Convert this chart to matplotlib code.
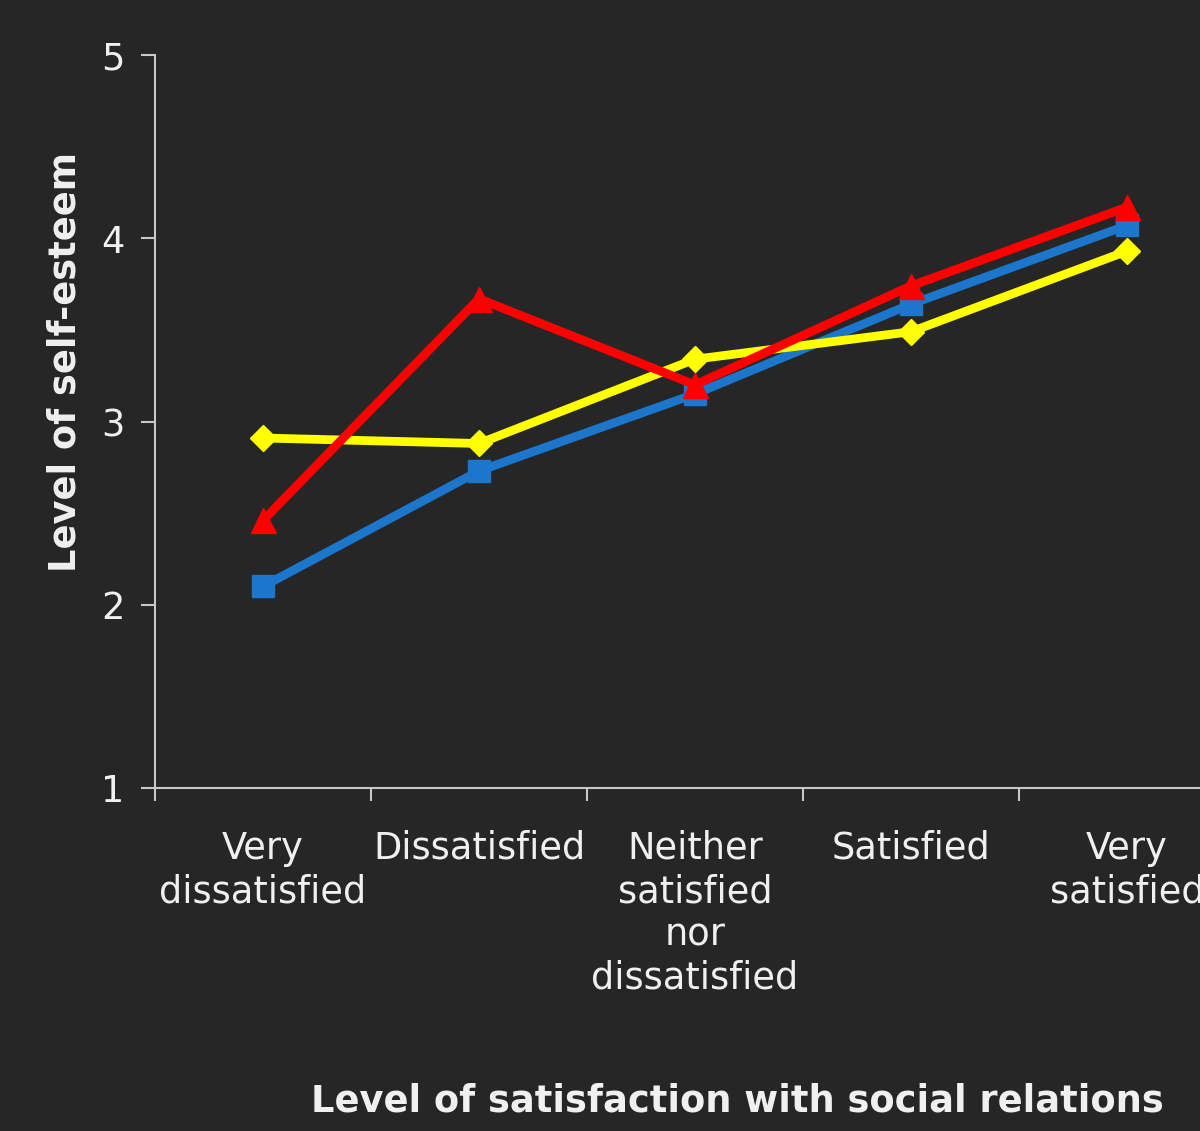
import matplotlib.pyplot as plt
from matplotlib.ticker import FixedLocator, NullFormatter

# data
categories = ["Very\ndissatisfied", "Dissatisfied", "Neither\nsatisfied\nnor\ndissatisfied",
              "Satisfied", "Very\nsatisfied"]
yellow_vals = [2.91, 2.88, 3.34, 3.49, 3.93]
blue_vals = [2.10, 2.73, 3.15, 3.64, 4.07]
red_vals = [2.46, 3.67, 3.20, 3.74, 4.17]
y_ticks = [1, 2, 3, 4, 5]

bg = "#262626"
fg = "#f0f0f0"
spine = "#c8c8c8"
fs = 26.5

fig = plt.figure(figsize=(12, 11.31), dpi=100, facecolor=bg)
ax = fig.add_axes([155 / 1200, 343 / 1131, 1080 / 1200, 733 / 1131], facecolor=bg)

x = range(1, len(categories) + 1)
ax.plot(x, blue_vals, color="#1b76cc", lw=6.3, marker="s", ms=16, zorder=3, clip_on=False)
ax.plot(x, yellow_vals, color="#ffff00", lw=6.3, marker="D", ms=13, zorder=4, clip_on=False)
ax.plot(x, red_vals, color="#ff0000", lw=6.3, marker="^", ms=18, zorder=5, clip_on=False)

ax.set_xlim(0.5, 5.5)
ax.set_ylim(1, 5)

# category boundaries as major ticks, names on minor ticks at the centres
ax.xaxis.set_major_locator(FixedLocator([0.5, 1.5, 2.5, 3.5, 4.5, 5.5]))
ax.xaxis.set_major_formatter(NullFormatter())
ax.set_xticks(list(x), minor=True)
ax.set_xticklabels(categories, minor=True, fontsize=fs, color=fg, linespacing=1.22)
ax.tick_params(axis="x", which="minor", length=0, pad=30)
ax.tick_params(axis="x", which="major", length=9, width=1.5, color=spine, direction="out")

ax.set_yticks(y_ticks)
ax.set_yticklabels([str(v) for v in y_ticks], fontsize=fs, color=fg)
ax.tick_params(axis="y", length=10, width=1.5, color=spine, direction="out", pad=12)

for s in ["top", "right"]:
    ax.spines[s].set_visible(False)
for s in ["left", "bottom"]:
    ax.spines[s].set_color(spine)
    ax.spines[s].set_linewidth(1.5)

fig.text(65 / 1200, 1 - 362 / 1131, "Level of self-esteem", rotation=90, fontsize=fs,
         fontweight="bold", color=fg, ha="center", va="center")
fig.text(737 / 1200, 1 - 1101 / 1131, "Level of satisfaction with social relations",
         fontsize=fs, fontweight="bold", color=fg, ha="center", va="center")

fig.savefig("out.png", dpi=100, facecolor=bg)
